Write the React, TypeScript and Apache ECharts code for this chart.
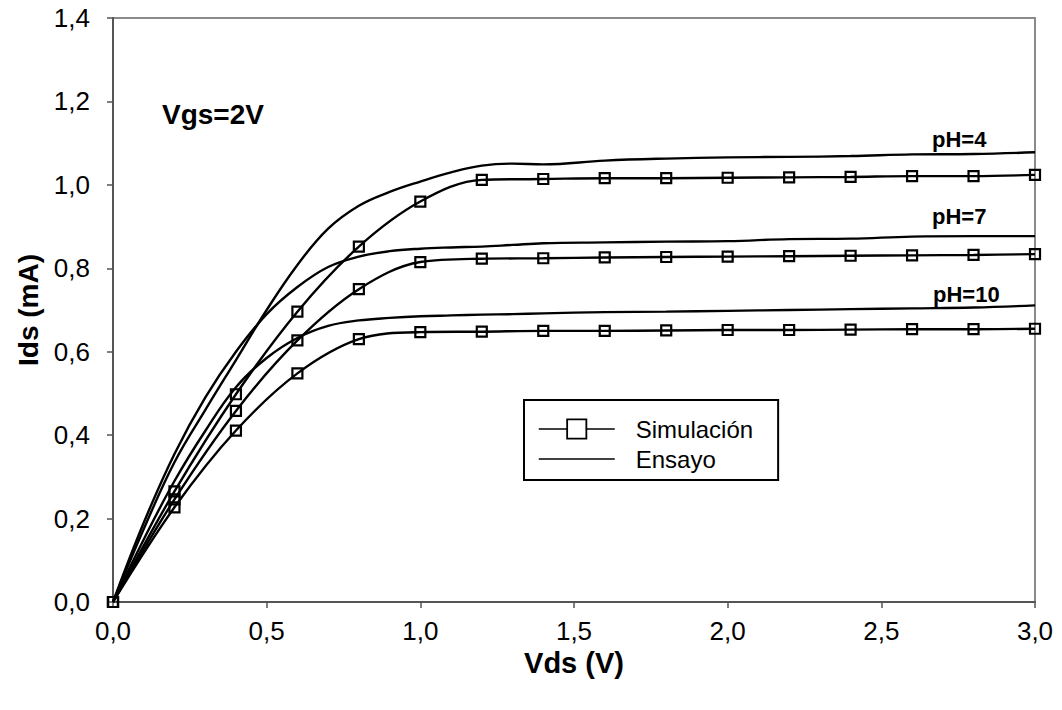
import React, { useEffect, useRef } from "react";
import * as echarts from "echarts";

// Drain voltage samples (V)
const vdsSim = [0, 0.2, 0.4, 0.6, 0.8, 1.0, 1.2, 1.4, 1.6, 1.8, 2.0, 2.2, 2.4, 2.6, 2.8, 3.0];
const vdsExp = [0, 0.1, 0.2, 0.3, 0.4, 0.5, 0.6, 0.7, 0.8, 0.9, 1.0, 1.1, 1.2, 1.3, 1.4, 1.6, 1.8, 2.0, 2.2, 2.4, 2.6, 2.8, 3.0];

// Simulated drain current (mA)
const simPH4 = [0, 0.265, 0.498, 0.696, 0.852, 0.96, 1.012, 1.014, 1.016, 1.016, 1.017, 1.018, 1.019, 1.021, 1.021, 1.024];
const simPH7 = [0, 0.246, 0.458, 0.627, 0.75, 0.815, 0.823, 0.824, 0.826, 0.827, 0.828, 0.829, 0.83, 0.831, 0.832, 0.834];
const simPH10 = [0, 0.227, 0.411, 0.548, 0.63, 0.647, 0.648, 0.65, 0.65, 0.651, 0.652, 0.652, 0.653, 0.654, 0.654, 0.655];

// Measured drain current (mA)
const expPH4 = [0, 0.175, 0.335, 0.46, 0.58, 0.7, 0.808, 0.895, 0.95, 0.983, 1.008, 1.03, 1.046, 1.051, 1.049, 1.058, 1.063, 1.066, 1.067, 1.069, 1.073, 1.074, 1.078];
const expPH7 = [0, 0.19, 0.355, 0.49, 0.6, 0.69, 0.755, 0.803, 0.828, 0.841, 0.847, 0.85, 0.852, 0.856, 0.86, 0.862, 0.864, 0.865, 0.87, 0.871, 0.876, 0.877, 0.877];
const expPH10 = [0, 0.15, 0.29, 0.41, 0.515, 0.585, 0.633, 0.662, 0.675, 0.681, 0.685, 0.687, 0.689, 0.69, 0.692, 0.695, 0.696, 0.698, 0.7, 0.702, 0.704, 0.706, 0.711];

const SIM_NAME = "Simulación";
const EXP_NAME = "Ensayo";
const curveLabels = [
  { text: "pH=4", x: 932, y: 128 },
  { text: "pH=7", x: 932, y: 205 },
  { text: "pH=10", x: 933, y: 283 },
];

const FONT = "'Liberation Sans', Arial, Helvetica, sans-serif";
const fmt = (v: number) => v.toFixed(1).replace(".", ",");
const pairs = (xs: number[], ys: number[]) => xs.map((x, i) => [x, ys[i]]);

function simSeries(values: number[]) {
  return {
    type: "line",
    name: SIM_NAME,
    data: pairs(vdsSim, values),
    smooth: 0.35,
    symbol: "rect",
    symbolSize: 10,
    showSymbol: true,
    color: "#000",
    lineStyle: { color: "#000", width: 2.4 },
    itemStyle: { color: "rgba(0,0,0,0)", borderColor: "#000", borderWidth: 2.2 },
    z: 3,
  };
}

function expSeries(values: number[]) {
  return {
    type: "line",
    name: EXP_NAME,
    data: pairs(vdsExp, values),
    smooth: 0.4,
    symbol: "none",
    symbolKeepAspect: true,
    color: "#000",
    lineStyle: { color: "#000", width: 2.4 },
    itemStyle: { color: "#000" },
    z: 2,
  };
}

export default function App() {
  const ref = useRef<HTMLDivElement>(null);

  useEffect(() => {
    if (!ref.current) return;
    const chart = echarts.init(ref.current, undefined, { renderer: "svg" });
    chart.setOption({
      animation: false,
      backgroundColor: "#fff",
      textStyle: { fontFamily: FONT },
      grid: {
        left: 113,
        right: 27,
        top: 18,
        bottom: 108,
        show: true,
        borderColor: "#8a8a8a",
        borderWidth: 2,
        containLabel: false,
      },
      xAxis: {
        type: "value",
        min: 0,
        max: 3,
        interval: 0.5,
        name: "Vds (V)",
        nameLocation: "middle",
        nameGap: 46,
        nameTextStyle: { fontFamily: FONT, fontSize: 29, fontWeight: "bold", color: "#000" },
        axisLine: { show: true, onZero: false, lineStyle: { color: "#555", width: 2 } },
        axisTick: { show: true, inside: false, length: 6, lineStyle: { color: "#555", width: 1.5 } },
        axisLabel: { fontFamily: FONT, fontSize: 26, color: "#000", margin: 16, formatter: fmt },
        splitLine: { show: false },
      },
      yAxis: {
        type: "value",
        min: 0,
        max: 1.4,
        interval: 0.2,
        name: "Ids (mA)",
        nameLocation: "middle",
        nameGap: 66,
        nameRotate: 90,
        nameTextStyle: { fontFamily: FONT, fontSize: 28, fontWeight: "bold", color: "#000" },
        axisLine: { show: true, onZero: false, lineStyle: { color: "#555", width: 2 } },
        axisTick: { show: true, inside: false, length: 6, lineStyle: { color: "#555", width: 1.5 } },
        axisLabel: { fontFamily: FONT, fontSize: 26, color: "#000", margin: 23, formatter: fmt },
        splitLine: { show: false },
      },
      legend: {
        orient: "vertical",
        left: 524,
        top: 400,
        padding: [17, 25, 9, 14],
        itemWidth: 76,
        itemHeight: 24,
        itemGap: 6,
        borderColor: "#000",
        borderWidth: 2,
        borderRadius: 0,
        backgroundColor: "#fff",
        selectedMode: false,
        lineStyle: { width: 1.5 },
        textStyle: { fontFamily: FONT, fontSize: 24, color: "#000", padding: [0, 0, 0, 16] },
        data: [
          { name: SIM_NAME, itemStyle: { color: "#fff", borderColor: "#000", borderWidth: 1.8 } },
          { name: EXP_NAME, icon: "path://M0,0 L76,0 L76,1.5 L0,1.5 Z" },
        ],
      },
      graphic: [
        {
          type: "text",
          left: 162,
          top: 100,
          style: { text: "Vgs=2V", font: `bold 28px ${FONT}`, fill: "#000" },
          z: 10,
        },
        ...curveLabels.map((l) => ({
          type: "text",
          left: l.x,
          top: l.y,
          style: { text: l.text, font: `bold 22px ${FONT}`, fill: "#000" },
          z: 10,
        })),
      ],
      series: [
        simSeries(simPH4),
        simSeries(simPH7),
        simSeries(simPH10),
        expSeries(expPH4),
        expSeries(expPH7),
        expSeries(expPH10),
      ],
    });
    return () => chart.dispose();
  }, []);

  return <div ref={ref} style={{ width: 1062, height: 710, margin: -8 }} />;
}
